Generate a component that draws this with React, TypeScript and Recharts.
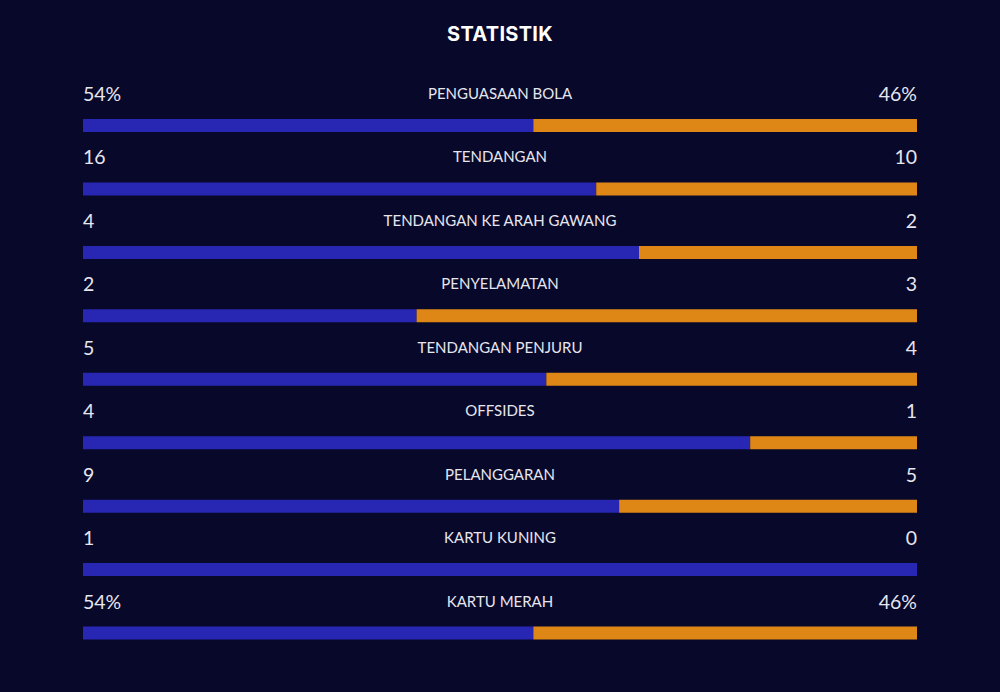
import { Bar, BarChart, LabelList, XAxis, YAxis } from "recharts";

const statLabels = [
  "PENGUASAAN BOLA",
  "TENDANGAN",
  "TENDANGAN KE ARAH GAWANG",
  "PENYELAMATAN",
  "TENDANGAN PENJURU",
  "OFFSIDES",
  "PELANGGARAN",
  "KARTU KUNING",
  "KARTU MERAH",
];
const homeValues = [54, 16, 4, 2, 5, 4, 9, 1, 54];
const awayValues = [46, 10, 2, 3, 4, 1, 5, 0, 46];
const homeText = ["54%", "16", "4", "2", "5", "4", "9", "1", "54%"];
const awayText = ["46%", "10", "2", "3", "4", "1", "5", "0", "46%"];

const W = 1000;
const H = 692;
const SIDE = 83;
const BG = "#08082a";
const TXT = "#e6e6ee";
const BLUE = "#2727b4";
const ORANGE = "#df8716";

const data = statLabels.map((label, i) => ({
  label,
  home: homeValues[i],
  away: awayValues[i],
  homeText: homeText[i],
  awayText: awayText[i],
}));

const HomeValue = (props: any) => {
  const { x, y, value } = props;
  return (
    <text x={x} y={y - 18} fill={TXT} fontSize={19.5} fontFamily="Lato" textAnchor="start">
      {value}
    </text>
  );
};

// right value is drawn from the home bar too, so a zero-width away bar still gets its label
const AwayValue = (props: any) => {
  const { y, value } = props;
  return (
    <text x={W - SIDE} y={y - 18} fill={TXT} fontSize={19.5} fontFamily="Lato" textAnchor="end">
      {value}
    </text>
  );
};

const CenterLabel = (props: any) => {
  const { y, value } = props;
  return (
    <text x={W / 2} y={y - 20} fill={TXT} fontSize={15} fontFamily="Lato" textAnchor="middle">
      {value}
    </text>
  );
};

export default function App() {
  return (
    <div style={{ position: "absolute", left: 0, top: 0, width: W, height: H, background: BG }}>
      <div
        style={{
          position: "absolute",
          top: 22,
          width: W,
          textAlign: "center",
          color: "#ffffff",
          fontFamily: "Inter",
          fontWeight: 700,
          fontSize: 20,
          letterSpacing: 0.3,
        }}
      >
        STATISTIK
      </div>
      <BarChart
        width={W}
        height={H}
        data={data}
        layout="vertical"
        stackOffset="expand"
        barSize={13}
        margin={{ top: 94, right: SIDE, left: SIDE, bottom: 27 }}
      >
        <XAxis type="number" hide domain={[0, 1]} />
        <YAxis type="category" dataKey="label" hide />
        <Bar dataKey="home" stackId="s" fill={BLUE} isAnimationActive={false}>
          <LabelList dataKey="homeText" content={HomeValue} />
          <LabelList dataKey="label" content={CenterLabel} />
          <LabelList dataKey="awayText" content={AwayValue} />
        </Bar>
        <Bar dataKey="away" stackId="s" fill={ORANGE} isAnimationActive={false} />
      </BarChart>
    </div>
  );
}
